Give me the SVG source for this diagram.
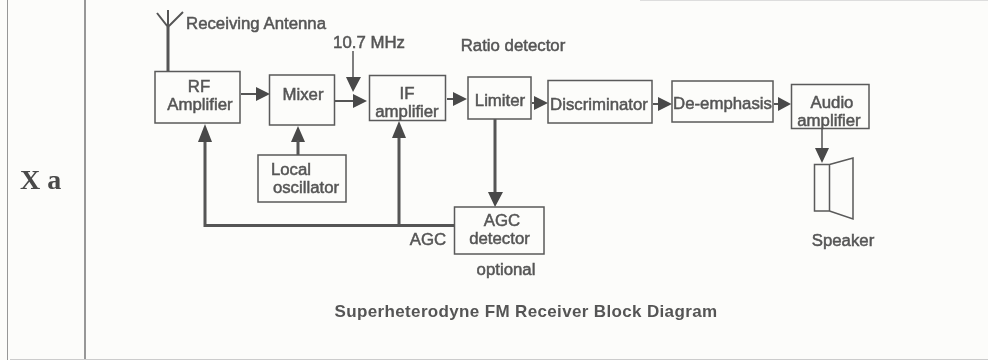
<svg xmlns="http://www.w3.org/2000/svg" width="988" height="360" viewBox="0 0 988 360">
<defs>
<filter id="soft" x="0" y="0" width="100%" height="100%"><feGaussianBlur stdDeviation="0.4"/></filter>
<style>
.b{fill:none;stroke:#5a5a5a;stroke-width:1.5}
.t{font-family:"Liberation Sans",Arial,sans-serif;font-size:16.800px;fill:#555;text-anchor:middle;stroke:#555;stroke-width:.5}
.c{fill:none;stroke:#555;stroke-width:2}
.n{fill:none;stroke:#555;stroke-width:1.5}
.h{fill:none;stroke:#555;stroke-width:3}
.a{fill:#484848}
.f{fill:none;stroke:#777;stroke-width:1.5}
</style>
</defs>
<rect width="988" height="360" fill="#fcfcfa"/>
<g filter="url(#soft)">
<g id="frame">
<path class="f" d="M7 0V360M85 0V360"/>
<path d="M10 359.500H988" fill="none" stroke="#ccc" stroke-width="1"/>
<path d="M640 0.500H988" fill="none" stroke="#ddd" stroke-width="1"/>
<text x="20" y="189" font-family="Liberation Serif,serif" font-size="28" font-weight="700" fill="#4a4a4a">X a</text>
</g>
<g id="connectors">
<path class="h" d="M168 71V27"/>
<path class="c" d="M157 13L168 27L183 12M168 10V27"/>
<path class="c" d="M241 94H258"/>
<path class="a" d="M256 87L270 94L256 101Z"/>
<path class="c" d="M335 101H355"/>
<path class="a" d="M353 94L367 101L353 108Z"/>
<path class="n" d="M353 51V78"/>
<path class="a" d="M346 77H361L353 92Z"/>
<path class="c" d="M447 99H455"/>
<path class="a" d="M453 92L467 99L453 106Z"/>
<path class="c" d="M532 103H536"/>
<path class="a" d="M534 96L548 103L534 110Z"/>
<path class="c" d="M653 104H660"/>
<path class="a" d="M658 97L672 104L658 111Z"/>
<path class="c" d="M774 104H780"/>
<path class="a" d="M778 97L791 104L778 111Z"/>
<path class="n" d="M822 128V150"/>
<path class="a" d="M815 148H829L822 163Z"/>
<path class="h" d="M495 119V193"/>
<path class="a" d="M488 192H503L495 207Z"/>
<path class="h" d="M205 140V225.500H454M399 136V225"/>
<path class="a" d="M205 124L212 142H198Z"/>
<path class="a" d="M298 126L305 142H291Z"/>
<path class="h" d="M298 140V155"/>
<path class="a" d="M399 121L406 138H392Z"/>
</g>
<g id="rf"><rect class="b" x="155" y="71.500" width="85" height="51.500"/><text class="t" x="199" y="92">RF</text><text class="t" x="200" y="110">Amplifier</text></g>
<g id="mixer"><rect class="b" x="269.500" y="75" width="65" height="50"/><text class="t" x="303" y="100">Mixer</text></g>
<g id="if"><rect class="b" x="369.500" y="75.500" width="76" height="45"/><text class="t" x="407" y="99">IF</text><text class="t" x="407" y="117">amplifier</text></g>
<g id="limiter"><rect class="b" x="468" y="77" width="63" height="42"/><text class="t" x="500" y="106">Limiter</text></g>
<g id="discriminator"><rect class="b" x="548" y="80.500" width="104" height="42.500"/><text class="t" x="599" y="110">Discriminator</text></g>
<g id="deemphasis"><rect class="b" x="672" y="81" width="101" height="41"/><text class="t" x="722.500" y="109">De-emphasis</text></g>
<g id="audio"><rect class="b" x="791.500" y="84.500" width="77.500" height="44"/><text class="t" x="832" y="108">Audio</text><text class="t" x="829" y="126">amplifier</text></g>
<g id="local"><rect class="b" x="258" y="155" width="88" height="47"/><text class="t" x="291" y="175">Local</text><text class="t" x="306" y="193">oscillator</text></g>
<g id="agc"><rect class="b" x="454.500" y="207" width="89.500" height="47"/><text class="t" x="502" y="226">AGC</text><text class="t" x="499.500" y="244">detector</text></g>
<g id="speaker"><path class="b" d="M814.500 164.500H829.500V211H814.500ZM829.500 164.500L853 158V219L829.500 211"/></g>
<g id="labels">
<text class="t" x="256" y="29">Receiving Antenna</text>
<text class="t" x="369" y="48">10.7 MHz</text>
<text class="t" x="513" y="51">Ratio detector</text>
<text class="t" x="428" y="245">AGC</text>
<text class="t" x="506" y="275">optional</text>
<text class="t" x="526" y="317" style="font-size:17px;font-weight:700;stroke-width:0;letter-spacing:.35px">Superheterodyne FM Receiver Block Diagram</text>
<text class="t" x="843" y="246">Speaker</text>
</g>
</g>
</svg>
